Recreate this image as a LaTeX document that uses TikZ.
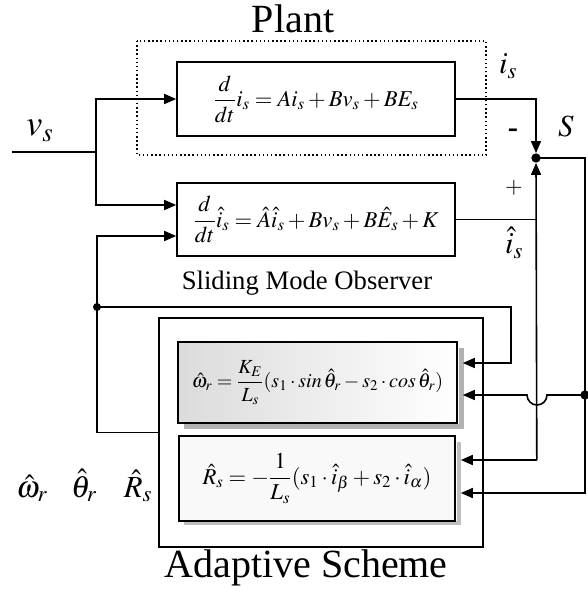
\documentclass[tikz,border=0pt]{standalone}
\usepackage{mathptmx}
\usepackage{fontspec}
\setmainfont{Liberation Serif}
\usepackage{amsmath}
\usetikzlibrary{arrows.meta,calc}

\begin{document}
\begin{tikzpicture}[x=0.75pt,y=0.75pt,yscale=-1,
		sig/.style={line width=1.2pt},
		arr/.style={sig,-{Triangle[length=9pt,width=7.5pt]}},
		blk/.style={draw,line width=1.2pt,inner sep=0pt},
		jdot/.style={circle,fill,inner sep=0pt,minimum size=7pt},
		bigtxt/.style={font=\fontsize{30}{34}\selectfont},
		sym/.style={font=\fontsize{23}{26}\selectfont},
		eqn/.style={font=\fontsize{17}{20}\selectfont}]
	\useasboundingbox (0,0) rectangle (587,598);
	% plant and observer
	\draw[line width=1.1pt,dotted] (137,41) rectangle (486,155);
	\node[bigtxt,anchor=base] (plantlbl) at (293,33) {Plant};
	\node[blk,eqn,minimum width=208.5pt,minimum height=55.5pt] (plant) at (316,99) {$\dfrac{d}{dt}i_s = Ai_s + Bv_s + BE_s$};
	\node[blk,eqn,minimum width=208.5pt,minimum height=54.75pt] (obs) at (316,219.5) {$\dfrac{d}{dt}\hat{i}_s = \hat{A}\hat{i}_s + Bv_s + B\hat{E}_s + K$};
	\node[font=\fontsize{20}{24}\selectfont,anchor=base] (obslbl) at (307,289) {Sliding Mode Observer};
	% adaptive scheme
	\node[blk,minimum width=243pt,minimum height=171.75pt] (adapt) at (321,432.5) {};
	\draw[gray!60,line width=3.75pt] (461,348) -- (461,426) -- (184,426);
	\node[blk,font=\fontsize{15}{18}\selectfont,left color=gray!28,right color=white,minimum width=209.25pt,minimum height=60.75pt] (omg) at (317.5,382.5) {$\hat{\omega}_r = \dfrac{K_E}{L_s}(s_1\cdot \mathit{sin}\,\hat{\theta}_r - s_2\cdot \mathit{cos}\,\hat{\theta}_r)$};
	\draw[gray!50,line width=3pt] (459,442) -- (459,523) -- (184,523);
	\node[blk,eqn,fill=gray!5,minimum width=207pt,minimum height=63.75pt] (Rbx) at (317,478.5) {$\hat{R}_s = -\dfrac{1}{L_s}(s_1\cdot\hat{i}_\beta + s_2\cdot\hat{i}_\alpha)$};
	\node[bigtxt,anchor=base] (adlbl) at (306,577) {Adaptive Scheme};
	% junctions
	\node[jdot] (sum) at (536,158) {};
	\node[jdot,minimum size=6pt] (fb) at (97,307) {};
	\node[jdot] (sr) at (585,395) {};
	\coordinate (vin) at (12,152);
	\coordinate (vbr) at (96,152);
	\coordinate (ih) at (536,219.5);
	% signals
	\draw[sig] (vin) -- (vbr);
	\draw[arr] (vbr) |- (plant.west);
	\draw[arr] (vbr) |- ($(obs.west)+(0,-14.5)$);
	\draw[arr] (adapt.west) -| (fb.center) |- ($(obs.west)+(0,16.5)$);
	\draw[arr] (fb.center) -| ($(omg.east)+(53,-19.5)$) -- ($(omg.east)+(5,-19.5)$);
	\draw[arr] (plant.east) -| (sum.north);
	\draw[sig] (obs.east) -- (ih);
	\draw[arr] ($(Rbx.east)+(81,-18.5)$) -- (sum.south);
	\draw[arr] ($(Rbx.east)+(81,-18.5)$) -- ($(Rbx.east)+(5,-18.5)$);
	\draw[sig] (sum.center) -| (sr.center);
	\draw[arr] (sr.center) |- ($(Rbx.east)+(5,14.5)$);
	\draw[arr] (sr.center) -- (547,395) arc[start angle=0,end angle=180,radius=10] -- ($(omg.east)+(5,12.5)$);
	% labels
	\node[font=\fontsize{27}{30}\selectfont] (vs) at (40,131) {$v_s$};
	\node[sym] (is) at (508,66) {$i_s$};
	\node[sym] (minus) at (513,133) {\textbf{-}};
	\node[sym] (slbl) at (566,126) {$S$};
	\node[eqn] (plus) at (514,188) {$+$};
	\node[sym] (ishat) at (514,243) {$\hat{i}_s$};
	\node[sym,anchor=base] (wr) at (32,497) {$\hat{\omega}_r$};
	\node[sym,anchor=base] (thr) at (84,497) {$\hat{\theta}_r$};
	\node[sym,anchor=base] (Rs) at (138,497) {$\hat{R}_s$};
\end{tikzpicture}
\end{document}
